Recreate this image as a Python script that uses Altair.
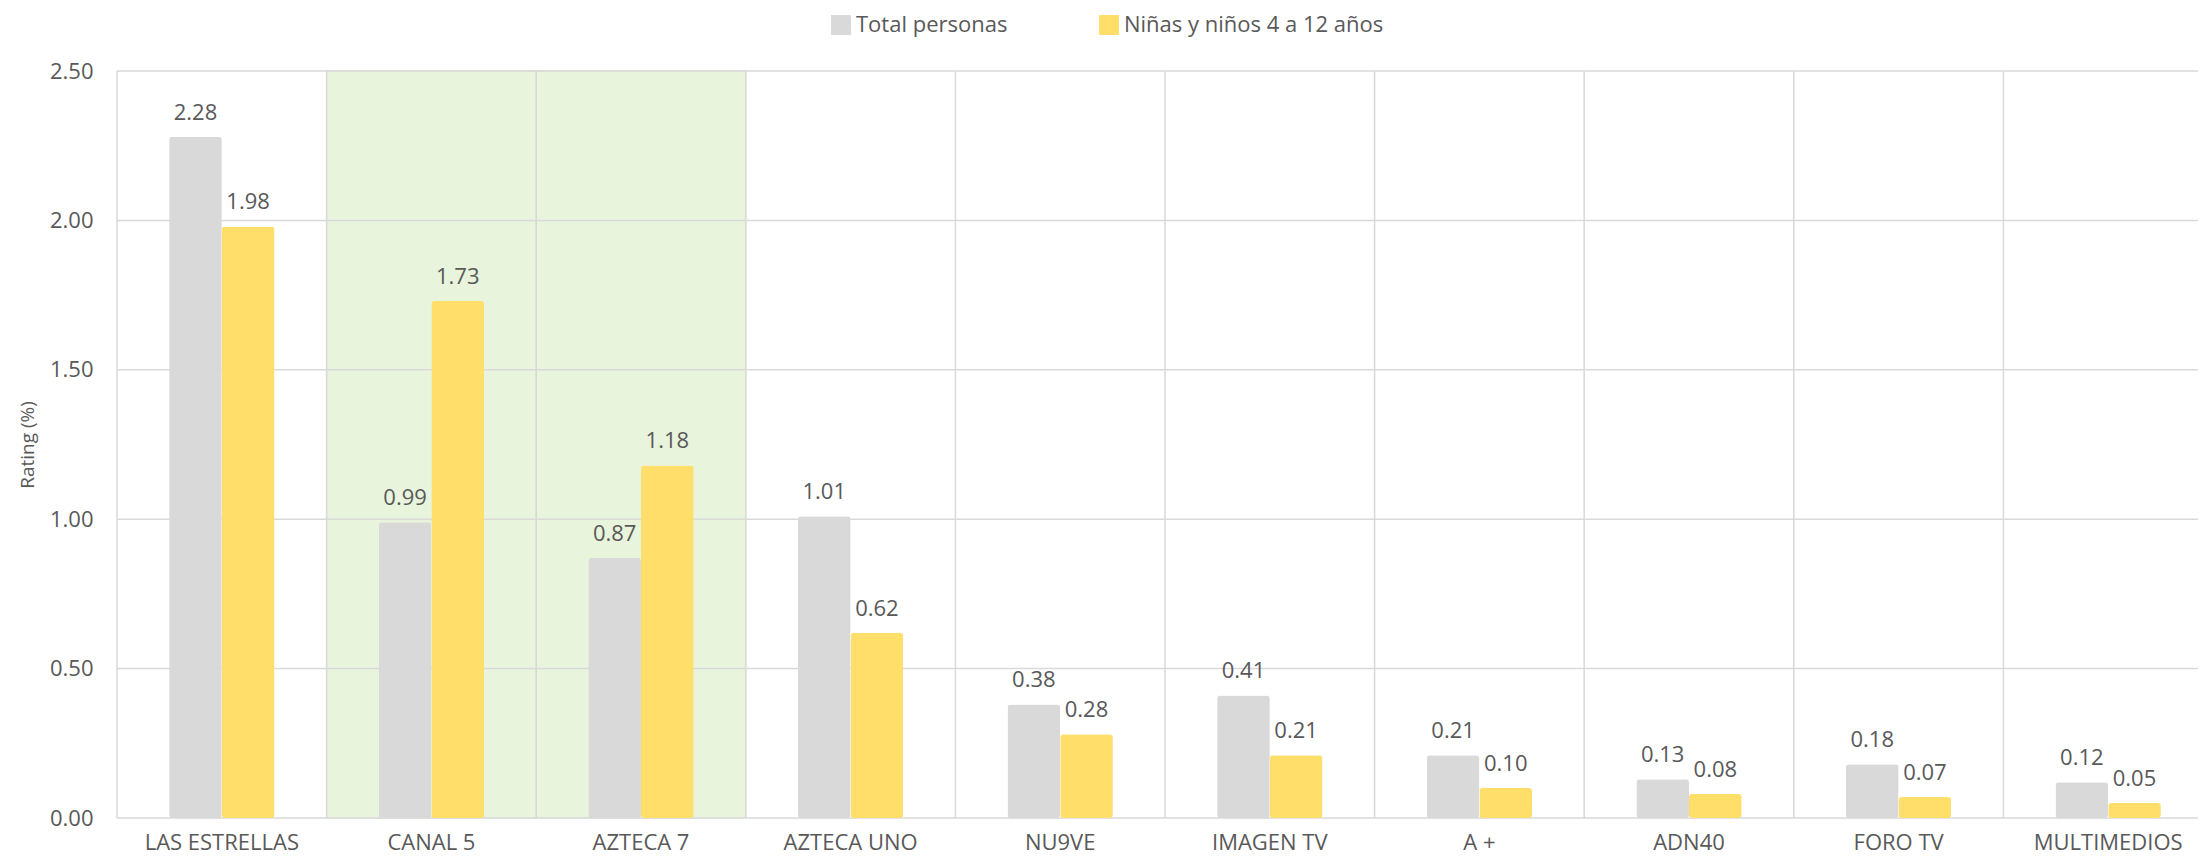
import altair as alt
import pandas as pd

canales = ["LAS ESTRELLAS", "CANAL 5", "AZTECA 7", "AZTECA UNO", "NU9VE",
           "IMAGEN TV", "A +", "ADN40", "FORO TV", "MULTIMEDIOS"]
total_personas = [2.28, 0.99, 0.87, 1.01, 0.38, 0.41, 0.21, 0.13, 0.18, 0.12]
ninas_ninos = [1.98, 1.73, 1.18, 0.62, 0.28, 0.21, 0.10, 0.08, 0.07, 0.05]
series = ["Total personas", "Niñas y niños 4 a 12 años"]
colores = ["#D9D9D9", "#FFDF69"]
resaltados = ["CANAL 5", "AZTECA 7"]
y_ticks = [0.0, 0.5, 1.0, 1.5, 2.0, 2.5]

rows = []
for c, t, n in zip(canales, total_personas, ninas_ninos):
    rows.append({"canal": c, "serie": series[0], "rating": t})
    rows.append({"canal": c, "serie": series[1], "rating": n})
df = pd.DataFrame(rows)

hl_df = pd.DataFrame({"canal": resaltados, "tope": [max(y_ticks)] * len(resaltados),
                      "base": [min(y_ticks)] * len(resaltados)})
cat_df = pd.DataFrame({"canal": canales})
tick_df = pd.DataFrame({"tick": y_ticks})

FONT = "Open Sans"
TITLE_FONT = "Open Sans"
TXT = "#595959"
GRID = "#D9D9D9"
YTITLE = "Rating (%)"

xscale = alt.Scale(domain=canales, paddingInner=0, paddingOuter=0, range=[0, 2096])
xaxis = alt.Axis(title=None, labelAngle=0, labelFontSize=22, labelColor=TXT, labelFont=FONT,
                 labelPadding=14, domain=False, ticks=False, grid=False)
yscale = alt.Scale(domain=[0, 2.5], nice=False)
yaxis = alt.Axis(values=y_ticks, format=".2f", grid=False, domain=False, ticks=False,
                 labelFontSize=22, labelColor=TXT, labelFont=FONT, labelPadding=24,
                 titleFontSize=19, titleFont=TITLE_FONT, titleColor=TXT,
                 titleFontWeight="normal", titlePadding=12)

X = alt.X("canal:N", sort=canales, scale=xscale, axis=xaxis)
XOFF = alt.XOffset("serie:N", sort=series,
                   scale=alt.Scale(domain=series, paddingInner=0, paddingOuter=0.99))

highlight = alt.Chart(hl_df).mark_rect(color="#E8F4DC", stroke="#D4EABF", strokeWidth=1).encode(
    x=X,
    y=alt.Y("tope:Q", title=YTITLE, scale=yscale, axis=yaxis),
    y2="base:Q",
)

vgrid = alt.Chart(cat_df).mark_rule(color=GRID, strokeWidth=1.5).encode(
    x=alt.X("canal:N", sort=canales, scale=xscale, axis=xaxis, bandPosition=0),
)

hgrid = alt.Chart(tick_df).mark_rule(color=GRID, strokeWidth=1.5).encode(
    y=alt.Y("tick:Q", title=YTITLE, scale=yscale, axis=yaxis),
)

bars = alt.Chart(df).mark_bar(cornerRadius=3).encode(
    x=X,
    xOffset=XOFF,
    y=alt.Y("rating:Q", title=YTITLE, scale=yscale, axis=yaxis),
    color=alt.Color(
        "serie:N", sort=series,
        scale=alt.Scale(domain=series, range=colores),
        legend=alt.Legend(title=None, orient="none", legendX=713, legendY=-57,
                          direction="horizontal", symbolType="square", symbolSize=400,
                          symbolStrokeWidth=0, symbolOpacity=1, labelFontSize=22,
                          labelFont=FONT, labelColor=TXT, labelOffset=4, labelLimit=0,
                          columnPadding=90, padding=0),
    ),
)

labels = alt.Chart(df).mark_text(dy=-24, fontSize=22, font=FONT, color=TXT).encode(
    x=X,
    xOffset=XOFF,
    y=alt.Y("rating:Q", title=YTITLE, scale=yscale, axis=yaxis),
    text=alt.Text("rating:Q", format=".2f"),
)

chart = alt.layer(highlight, vgrid, hgrid, bars, labels).properties(
    width=2081,
    height=747,
    padding={"left": 109, "top": 63, "right": 0, "bottom": 39},
    autosize=alt.AutoSizeParams(type="none"),
    background="white",
).configure_view(stroke=None).configure_axisY(
    titleFontSize=19, titleFont=TITLE_FONT, titleColor=TXT, titleFontWeight="normal"
)

chart.save("out.html", embed_options={"renderer": "svg", "actions": False})
